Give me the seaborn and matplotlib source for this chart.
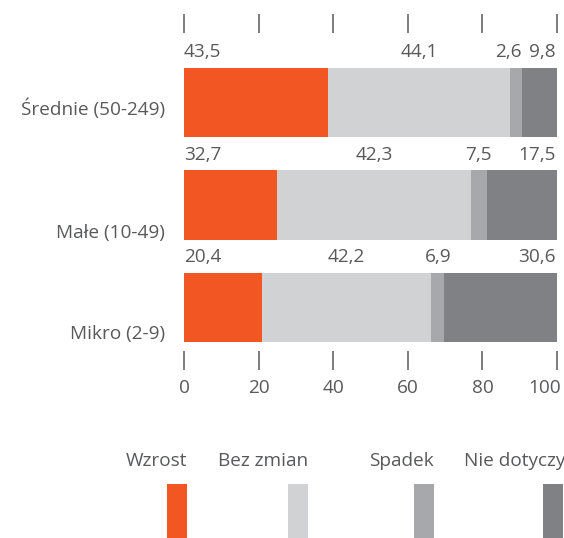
import pandas as pd
import matplotlib
matplotlib.use('Agg')
import matplotlib.pyplot as plt
import matplotlib.transforms as mtransforms
import seaborn as sns
from matplotlib.patches import Rectangle

# ## Data
categories = ['Średnie (50-249)', 'Małe (10-49)', 'Mikro (2-9)']
series = ['Wzrost', 'Bez zmian', 'Spadek', 'Nie dotyczy']

# values printed above the bars
wzrost = [43.5, 32.7, 20.4]
bez_zmian = [44.1, 42.3, 42.2]
spadek = [2.6, 7.5, 6.9]
nie_dotyczy = [9.8, 17.5, 30.6]

# segment lengths as drawn in the chart
wzrost_bar = [38.7, 25.0, 20.9]
bez_zmian_bar = [48.6, 52.0, 45.4]
spadek_bar = [3.4, 4.1, 3.5]
nie_dotyczy_bar = [9.3, 18.9, 30.2]

colors = ['#f15623', '#d1d2d4', '#a7a8ab', '#808184']
text_color = '#58595b'

# ## Style
sns.set_style('white')
plt.rcParams['font.family'] = ['Open Sans', 'DejaVu Sans']
plt.rcParams['font.size'] = 13.7

bars = pd.DataFrame({'category': categories, 'Wzrost': wzrost_bar,
                     'Bez zmian': bez_zmian_bar, 'Spadek': spadek_bar,
                     'Nie dotyczy': nie_dotyczy_bar})
labels = pd.DataFrame({'Wzrost': wzrost, 'Bez zmian': bez_zmian,
                       'Spadek': spadek, 'Nie dotyczy': nie_dotyczy})
cum = bars[series].cumsum(axis=1)

fig = plt.figure(figsize=(5.64, 5.38), dpi=100)
ax = fig.add_axes([184 / 564, 1 - 351 / 538, 373 / 564, 318 / 538])

# stacked bars: draw cumulative totals from the last series backwards
for s, c in reversed(list(zip(series, colors))):
    sns.barplot(x=cum[s], y=bars['category'], color=c, width=0.68,
                orient='h', saturation=1, linewidth=0, ax=ax)

ax.set_xlim(0, 100)
ax.set_ylim(2.424, -0.678)
ax.set_xlabel('')
ax.set_ylabel('')
ax.set_yticks([])
ax.set_xticks([0, 20, 40, 60, 80, 100])
ax.tick_params(axis='x', top=True, bottom=True, labeltop=False,
               direction='out', length=13.5, width=1.1, color=text_color,
               labelcolor=text_color, labelsize=13.7, pad=7)
for sp in ax.spines.values():
    sp.set_visible(False)

# last tick label is pulled inside the figure
last = ax.get_xticklabels()[-1]
last.set_horizontalalignment('right')
last.set_transform(last.get_transform() + mtransforms.ScaledTranslation(
    4 / 100, 0, fig.dpi_scale_trans))

# value labels above each bar
for i in range(len(categories)):
    left = 0
    for j, s in enumerate(series):
        w = bars.loc[i, s]
        txt = f'{labels.loc[i, s]:.1f}'.replace('.', ',')
        y = i - 0.34 - 0.1
        if j == 0:
            ax.text(0, y, txt, ha='left', va='baseline', color=text_color)
        elif j == len(series) - 1:
            ax.text(99.6, y, txt, ha='right', va='baseline', color=text_color)
        else:
            x = left + w / 2
            if i == 0 and j == 2:
                x -= 2
            ax.text(x, y, txt, ha='center', va='baseline', color=text_color)
        left += w

# category names
cat_label_y = [0.06, 1.27, 2.26]
for cat, y in zip(categories, cat_label_y):
    ax.text(-5, y, cat, ha='right', va='center', color=text_color)

# legend: labels above small colour blocks
leg_right = [187, 308, 434, 563]
for name, c, r in zip(series, colors, leg_right):
    fig.add_artist(Rectangle(((r - 20) / 564, 0), 20 / 564, 54 / 538,
                             transform=fig.transFigure, color=c, lw=0))
    if name == 'Nie dotyczy':
        fig.text(464 / 564, 1 - 461 / 538, name, ha='left', va='center',
                 color=text_color)
    else:
        fig.text(r / 564, 1 - 461 / 538, name, ha='right', va='center',
                 color=text_color)

fig.savefig('out.png', dpi=100)
